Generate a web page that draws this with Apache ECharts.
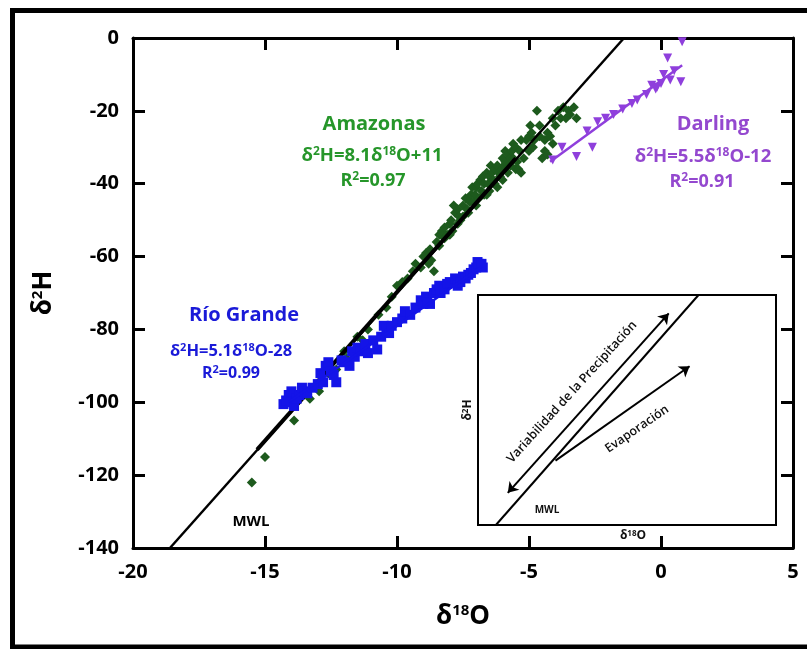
<!DOCTYPE html>
<html>
<head>
<meta charset="utf-8">
<script src="https://cdn.jsdelivr.net/npm/echarts@6/dist/echarts.min.js"></script>
<style>
  html, body { margin: 0; padding: 0; background: #fff; }
  #chart { width: 807px; height: 649px; }
</style>
</head>
<body>
<div id="chart"></div>
<script>
// δ18O, δ2H pairs
const amazonas = [
  [-15.5,-122],[-15.0,-115],[-13.9,-105],[-13.3,-99],[-12.95,-97],[-12.6,-92],[-12.3,-91],[-12.0,-86],
  [-11.9,-88],[-11.5,-82],[-11.3,-83],[-11.1,-80],[-10.7,-76],[-10.4,-74],[-10.2,-71],[-10.0,-68],
  [-9.8,-67],[-9.6,-66],[-9.4,-64],[-9.3,-62],[-9.1,-63],[-9.0,-60],[-8.9,-59],[-8.8,-62],[-8.75,-58],
  [-8.7,-61],[-8.6,-64],[-8.5,-56],[-8.4,-57],[-8.4,-54],[-8.3,-53],[-8.2,-55],[-8.2,-52],[-8.1,-54],
  [-8.0,-51],[-8.0,-54],[-7.95,-50],[-7.9,-53],[-7.85,-46],[-7.8,-48],[-7.7,-47],[-7.7,-51],[-7.65,-49],
  [-7.6,-50],[-7.5,-46],[-7.5,-49],[-7.4,-44],[-7.35,-47],[-7.3,-48],[-7.3,-44],[-7.25,-45],[-7.2,-43],
  [-7.15,-41],[-7.1,-45],[-7.05,-43],[-7.0,-41],[-7.0,-46],[-6.95,-40],[-6.9,-44],[-6.85,-39],
  [-6.8,-42],[-6.75,-38],[-6.7,-40],[-6.7,-43],[-6.6,-43],[-6.6,-37],[-6.55,-40],[-6.5,-38],[-6.5,-42],
  [-6.45,-35],[-6.4,-37],[-6.35,-39],[-6.3,-40],[-6.3,-36],[-6.2,-35],[-6.2,-41],[-6.15,-37],[-6.1,-38],
  [-6.0,-36],[-6.0,-33],[-6.0,-39],[-5.95,-35],[-5.9,-34],[-5.9,-31],[-5.8,-32],[-5.8,-37],[-5.7,-35],
  [-5.7,-33],[-5.65,-31],[-5.6,-33],[-5.6,-29],[-5.5,-30],[-5.5,-36],[-5.45,-34],[-5.4,-36],[-5.35,-31],
  [-5.3,-37],[-5.3,-28],[-5.2,-33],[-5.1,-28],[-5.0,-31],[-5.0,-27],[-4.95,-24],[-4.9,-26],[-4.85,-30],
  [-4.8,-28],[-4.7,-20],[-4.6,-27],[-4.6,-24],[-4.5,-33],[-4.4,-31],[-4.4,-28],[-4.3,-26],[-4.3,-32],
  [-4.2,-27],[-4.1,-22],[-4.1,-29],[-4.0,-24],[-3.9,-20],[-3.8,-22],[-3.7,-19],[-3.6,-22],[-3.5,-20],
  [-3.45,-21],[-3.3,-19],[-3.2,-22]
];
const darling = [
  [0.8,-1],[0.25,-5.5],[0.75,-12],[0.1,-10],[0.35,-11.5],[0.5,-9],[0.0,-12.5],[-0.15,-13.5],[-0.2,-14],
  [-0.35,-13],[-0.55,-15.5],[-0.9,-17],[-1.1,-18],[-1.45,-19.5],[-1.8,-21],[-2.1,-22],[-2.4,-23],
  [-2.8,-25.5],[-2.6,-30],[-3.2,-32.5],[-3.75,-30],[-4.1,-33.5]
];
const rioGrande = [
  [-14.3,-100.5],[-14.2,-99.5],[-14.1,-98],[-14.0,-100],[-14.0,-97],[-13.9,-101],[-13.8,-99],[-13.7,-98],
  [-13.6,-96],[-13.5,-97],[-13.4,-97.5],[-13.2,-96],[-13.0,-95],[-12.9,-92],[-12.8,-94.5],[-12.7,-90],
  [-12.6,-89],[-12.5,-91.5],[-12.4,-92.5],[-12.3,-94.5],[-12.1,-88.5],[-11.95,-89],[-11.8,-90],
  [-11.7,-86],[-11.6,-87.5],[-11.5,-85],[-11.4,-86],[-11.2,-84],[-11.1,-86.5],[-10.9,-83],[-10.75,-85.5],
  [-10.6,-82],[-10.5,-79],[-10.4,-80.5],[-10.3,-81],[-10.2,-79],[-10.0,-78],[-9.8,-77],[-9.7,-75],
  [-9.5,-76],[-9.3,-74],[-9.1,-72],[-9.0,-73],[-8.9,-71],[-8.85,-72.5],[-8.75,-73],[-8.6,-70],
  [-8.5,-69],[-8.4,-68],[-8.35,-70],[-8.2,-69],[-8.1,-67.5],[-8.0,-67],[-7.8,-66],[-7.7,-68],
  [-7.6,-67],[-7.5,-65.5],[-7.4,-66],[-7.3,-65],[-7.2,-64.5],[-7.1,-63.5],[-7.0,-63],[-6.95,-61.5],
  [-6.9,-62],[-6.8,-62],[-6.75,-63]
];

// fitted lines (end points)
const mwlLine = [[-18.6,-140],[-1.4,0]];
const amazonasFit = [[-15.3,-113],[-5.5,-33]];
const darlingFit = [[-4.2,-34],[0.8,-7.5]];
const rioGrandeFit = [[-14.1,-99.9],[-6.8,-62.7]];

// inset schematic (arbitrary 0-10 units)
const insetMwl = [[0.6,0],[7.4,10]];
const insetPrecip = [[1.0,1.4],[6.4,9.2]];
const insetEvap = [[2.6,2.8],[7.1,6.9]];

const xRange = [-20, 5, 5];
const yRange = [-140, 0, 20];

const FONT = 'Open Sans';

function richOf(size, color, supSize) {
  return {
    n: { fontSize: size, fontWeight: 'bold', color: color, fontFamily: FONT },
    s: { fontSize: supSize, fontWeight: 'bold', color: color, fontFamily: FONT,
      verticalAlign: 'top', padding: [0, 0, Math.round(size * 0.45), 0] }
  };
}

function label(x, y, text, size, color, supSize, rot) {
  return {
    type: 'text', x: x, y: y, rotation: rot || 0, z: 100,
    style: {
      text: text, rich: richOf(size, color, supSize || Math.round(size * 0.62)),
      align: 'center', verticalAlign: 'middle', fill: color
    }
  };
}

const GREEN = '#26962a', PURPLE = '#9448cf', BLUE = '#1a1ad8';

const chart = echarts.init(document.getElementById('chart'));
const axisLine = { show: true, onZero: false, lineStyle: { color: '#000', width: 3 } };
const tick = { show: true, inside: true, length: 12, lineStyle: { color: '#000', width: 3 } };
const tickLabel = { color: '#000', fontSize: 20, fontWeight: 'bold', fontFamily: FONT };

chart.setOption({
  animation: false,
  backgroundColor: '#fff',
  grid: [
    { left: 133, right: 14, top: 38, bottom: 101 },
    { left: 478, top: 295, width: 298, height: 230, show: true, backgroundColor: '#fff',
      borderColor: '#000', borderWidth: 2, z: 10 }
  ],
  xAxis: [
    { type: 'value', gridIndex: 0, min: xRange[0], max: xRange[1], interval: xRange[2],
      axisLine: axisLine, axisTick: tick, splitLine: { show: false },
      axisLabel: Object.assign({ margin: 14 }, tickLabel),
      name: '{n|δ}{s|18}{n|O}', nameLocation: 'middle', nameGap: 55,
      nameTextStyle: { rich: richOf(26, '#000', 15) } },
    { type: 'value', gridIndex: 0, position: 'top', min: xRange[0], max: xRange[1], interval: xRange[2],
      axisLine: axisLine, axisTick: tick, axisLabel: { show: false }, splitLine: { show: false } },
    { type: 'value', gridIndex: 1, min: 0, max: 10, show: false }
  ],
  yAxis: [
    { type: 'value', gridIndex: 0, min: yRange[0], max: yRange[1], interval: yRange[2],
      axisLine: axisLine, axisTick: tick, splitLine: { show: false },
      axisLabel: Object.assign({ margin: 14 }, tickLabel),
      name: '{n|δ}{s|2}{n|H}', nameLocation: 'middle', nameGap: 76, nameRotate: 90,
      nameTextStyle: { rich: richOf(26, '#000', 15) } },
    { type: 'value', gridIndex: 0, position: 'right', min: yRange[0], max: yRange[1], interval: yRange[2],
      axisLine: axisLine, axisTick: tick, axisLabel: { show: false }, splitLine: { show: false } },
    { type: 'value', gridIndex: 1, min: 0, max: 10, show: false }
  ],
  series: [
    { type: 'line', data: mwlLine, symbol: 'none', lineStyle: { color: '#000', width: 2.5 }, z: 3 },
    { type: 'line', data: amazonasFit, symbol: 'none', lineStyle: { color: '#000', width: 4 }, z: 3 },
    { type: 'scatter', data: amazonas, symbol: 'diamond', symbolSize: 10,
      itemStyle: { color: '#1d5a1d', opacity: 1 }, z: 2 },
    { type: 'scatter', data: rioGrande, symbol: 'rect', symbolSize: 10,
      itemStyle: { color: '#1414e8', opacity: 1 }, z: 4 },
    { type: 'line', data: rioGrandeFit, symbol: 'none', lineStyle: { color: '#1414e8', width: 2.5 }, z: 5 },
    { type: 'scatter', data: darling, symbol: 'triangle', symbolRotate: 180, symbolSize: 9,
      itemStyle: { color: '#8f3fdc', opacity: 1 }, z: 4 },
    { type: 'line', data: darlingFit, symbol: 'none', lineStyle: { color: '#8f3fdc', width: 2.5 }, z: 5 },

    { type: 'line', xAxisIndex: 2, yAxisIndex: 2, data: insetMwl, symbol: 'none',
      lineStyle: { color: '#000', width: 2 }, z: 20 },
    { type: 'lines', coordinateSystem: 'cartesian2d', xAxisIndex: 2, yAxisIndex: 2,
      symbol: ['arrow', 'arrow'], symbolSize: 10,
      lineStyle: { color: '#000', width: 2, opacity: 1 },
      data: [{ coords: insetPrecip }], z: 20 },
    { type: 'lines', coordinateSystem: 'cartesian2d', xAxisIndex: 2, yAxisIndex: 2,
      symbol: ['none', 'arrow'], symbolSize: 10,
      lineStyle: { color: '#000', width: 2, opacity: 1 },
      data: [{ coords: insetEvap }], z: 20 }
  ],
  graphic: [
    { type: 'line', shape: { x1: 12, y1: 10.5, x2: 807, y2: 10.5 }, style: { stroke: '#000', lineWidth: 5 } },
    { type: 'line', shape: { x1: 12.5, y1: 8, x2: 12.5, y2: 649 }, style: { stroke: '#000', lineWidth: 5 } },
    { type: 'line', shape: { x1: 10, y1: 647, x2: 807, y2: 647 }, style: { stroke: '#000', lineWidth: 5 } },

    label(374, 124, '{n|Amazonas}', 20, GREEN),
    label(372, 156, '{n|δ}{s|2}{n|H=8.1δ}{s|18}{n|O+11}', 18.5, GREEN, 12),
    label(373, 181, '{n|R}{s|2}{n|=0.97}', 18, GREEN, 12),

    label(713, 124, '{n|Darling}', 20, PURPLE),
    label(703, 157, '{n|δ}{s|2}{n|H=5.5δ}{s|18}{n|O-12}', 18.5, PURPLE, 12),
    label(702, 182, '{n|R}{s|2}{n|=0.91}', 18, PURPLE, 12),

    label(244, 315, '{n|Río Grande}', 20, BLUE),
    label(231, 351, '{n|δ}{s|2}{n|H=5.1δ}{s|18}{n|O-28}', 16.5, BLUE, 11),
    label(231, 373, '{n|R}{s|2}{n|=0.99}', 16, BLUE, 11),

    label(251, 522, '{n|MWL}', 15, '#000'),

    { type: 'text', x: 572, y: 392, rotation: 0.834, z: 100,
      style: { text: 'Variabilidad de la Precipitación', font: '600 12.5px "Open Sans"', fill: '#111',
        align: 'center', verticalAlign: 'middle' } },
    { type: 'text', x: 637, y: 429, rotation: 0.6, z: 100,
      style: { text: 'Evaporación', font: '600 12.5px "Open Sans"', fill: '#111',
        align: 'center', verticalAlign: 'middle' } },
    label(547, 510, '{n|MWL}', 10, '#111'),
    label(468, 410, '{n|δ}{s|2}{n|H}', 12, '#111', 8, Math.PI / 2),
    label(633, 536, '{n|δ}{s|18}{n|O}', 12, '#111', 8)
  ]
});
</script>
</body>
</html>
